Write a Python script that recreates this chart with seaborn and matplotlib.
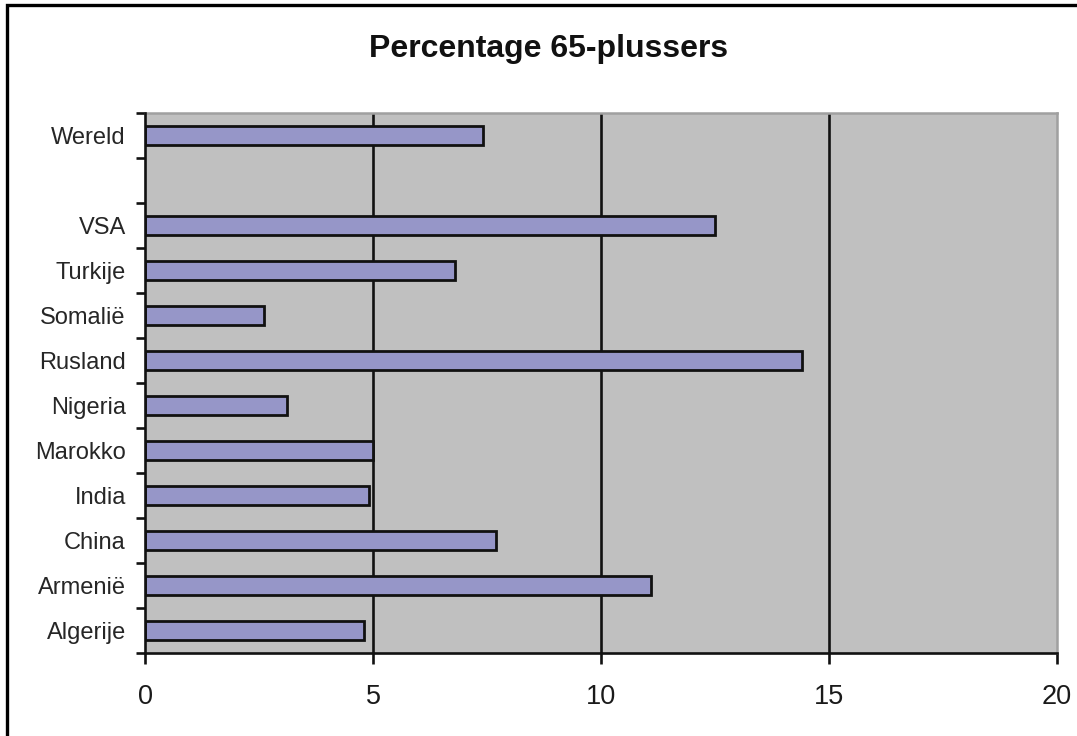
import matplotlib
matplotlib.use("Agg")
import matplotlib.pyplot as plt
import seaborn as sns
import pandas as pd
from matplotlib.ticker import FixedLocator

# data (top to bottom)
countries = ['Wereld', 'VSA', 'Turkije', 'Somalië', 'Rusland', 'Nigeria',
             'Marokko', 'India', 'China', 'Armenië', 'Algerije']
pct_65plus = [7.4, 12.5, 6.8, 2.6, 14.4, 3.1, 5.0, 4.9, 7.7, 11.1, 4.8]
# slot order on the y axis, with an empty slot under Wereld
slot_order = ['Wereld', ' ', 'VSA', 'Turkije', 'Somalië', 'Rusland', 'Nigeria',
              'Marokko', 'India', 'China', 'Armenië', 'Algerije']
x_ticks = [0, 5, 10, 15, 20]
title = 'Percentage 65-plussers'

df = pd.DataFrame({'land': countries, 'pct': pct_65plus})

sns.set_style('white')
plt.rcParams['font.family'] = ['Liberation Sans', 'DejaVu Sans']

fig = plt.figure(figsize=(10.77, 7.36), dpi=100)
ax = fig.add_axes([145.3 / 1077, 1 - 653 / 736, (1057 - 145.3) / 1077, (653 - 113) / 736])
ax.set_facecolor('#c0c0c0')

sns.barplot(data=df, x='pct', y='land', order=slot_order, orient='h',
            color='#9696c8', saturation=1, width=0.42,
            edgecolor='#111111', linewidth=2.0, ax=ax, zorder=3)

ax.set_xlim(0, 20)
ax.set_ylim(len(slot_order) - 0.5, -0.5)
ax.set_xticks(x_ticks)
ax.set_xticklabels([str(t) for t in x_ticks])
ax.set_xlabel('')
ax.set_ylabel('')

# vertical gridlines
ax.grid(False)
for t in x_ticks[1:-1]:
    ax.axvline(t, color='#111111', lw=1.9, zorder=2)

# ticks
ax.tick_params(axis='x', direction='out', length=8, width=1.9, color='#111111',
               labelsize=19.5, pad=14, labelcolor='#1a1a1a', bottom=True)
ax.tick_params(axis='y', which='major', length=0, labelsize=17, pad=14,
               labelcolor='#262626')
ax.yaxis.set_minor_locator(FixedLocator([i - 0.5 for i in range(len(slot_order) + 1)]))
ax.tick_params(axis='y', which='minor', direction='out', length=6.5, width=1.9,
               color='#111111', left=True)

for side in ['left', 'bottom']:
    ax.spines[side].set_color('#111111')
    ax.spines[side].set_linewidth(1.9)
    ax.spines[side].set_zorder(4)
for side in ['top', 'right']:
    ax.spines[side].set_visible(True)
    ax.spines[side].set_color('#a0a0a0')
    ax.spines[side].set_linewidth(1.8)

fig.text(549 / 1077, 1 - 57 / 736, title, ha='center', va='baseline',
         fontsize=23, fontweight='bold', color='#111111')

# outer frame (only left and top edge fall inside the picture)
frame = plt.Rectangle((7 / 1077, -0.1), 1.2, 1 - 5 / 736 + 0.1, transform=fig.transFigure,
                      fill=False, edgecolor='black', lw=2.4, clip_on=False)
fig.add_artist(frame)

fig.savefig('out.png', dpi=100, facecolor='white')
